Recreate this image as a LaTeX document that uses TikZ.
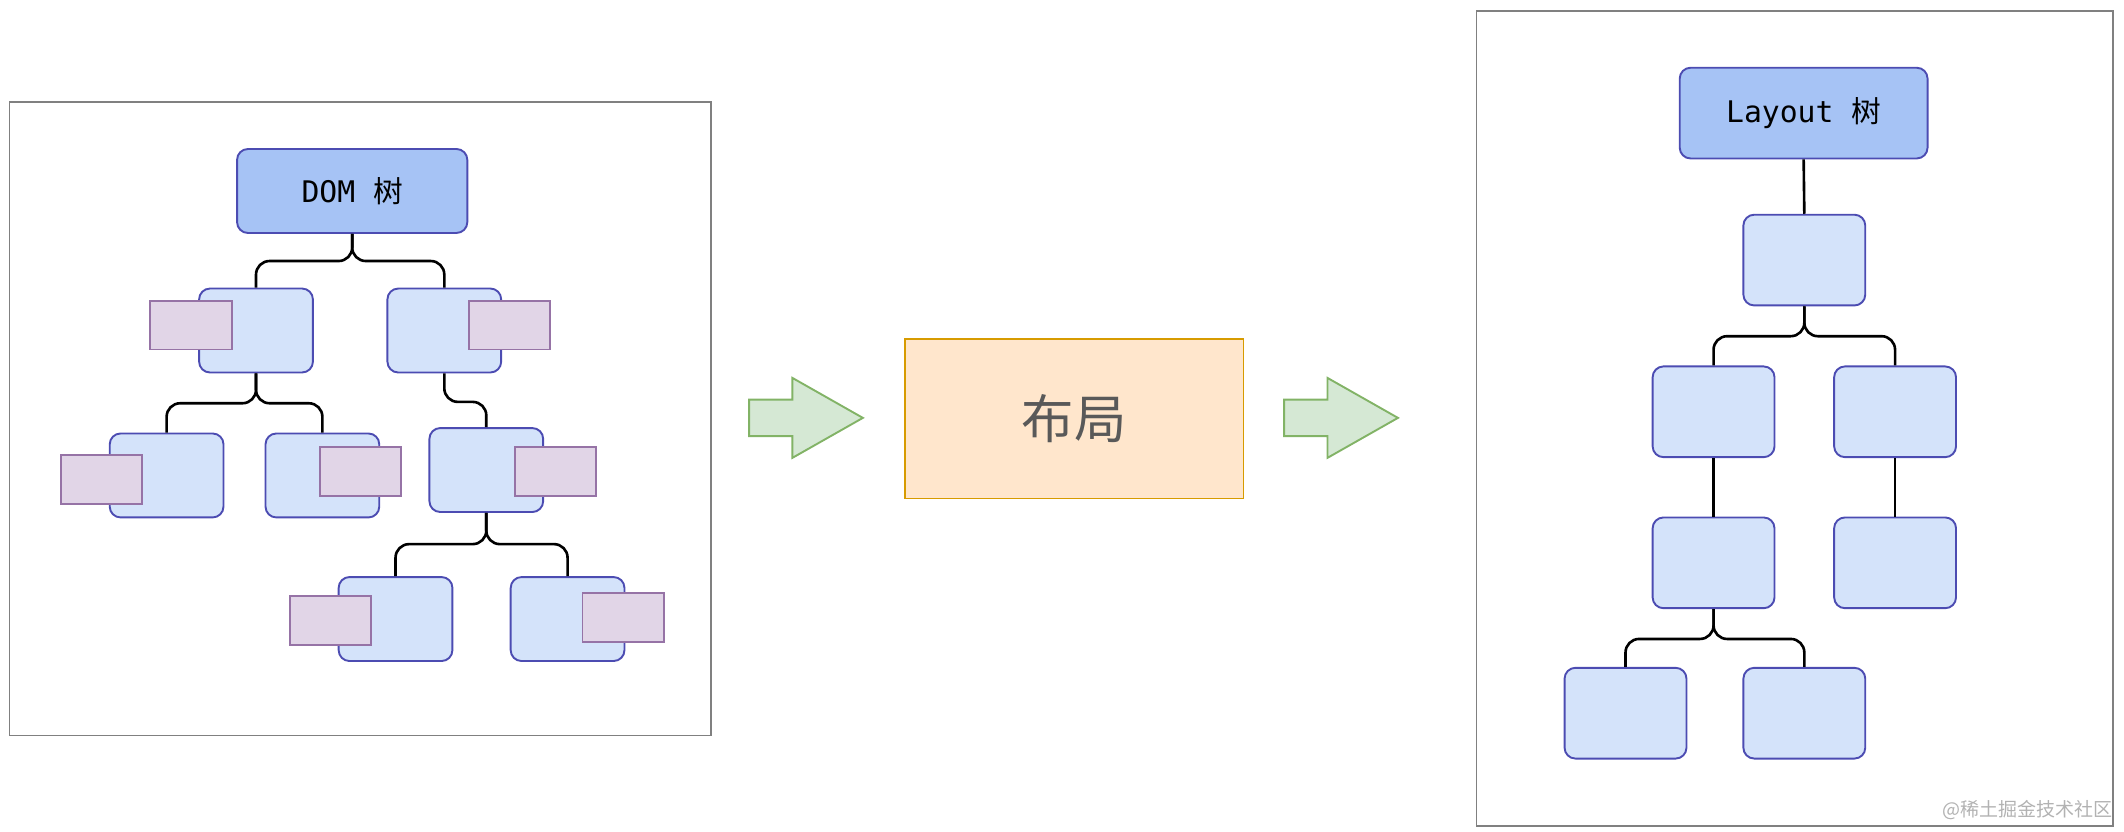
\documentclass[tikz,border=0pt]{standalone}
\usepackage{fontspec}
\setmonofont{DejaVu Sans Mono}
\newfontfamily\cjk{Noto Sans CJK SC}
\begin{document}
\begin{tikzpicture}[x=0.02cm,y=-0.02cm,
  frame/.style={draw=black!50,line width=0.8pt},
  lb/.style={draw=blue!40!gray,fill=blue!15!cyan!5!white,fill=lbfill,rounded corners=0.16cm,line width=0.8pt,minimum width=1.68cm,minimum height=1.24cm},
  rb/.style={lb,minimum width=1.8cm,minimum height=1.34cm},
  pb/.style={draw=pstroke,fill=pfill,line width=0.8pt,minimum width=1.2cm,minimum height=0.72cm},
  hb/.style={draw=blue!40!gray,fill=hfill,rounded corners=0.16cm,line width=0.8pt,font=\fontsize{12.5}{14}\selectfont\ttfamily},
  conn/.style={draw=black,line width=1.1pt,rounded corners=0.2cm},
  garrow/.style={draw=gstroke,fill=gfill,line width=0.8pt}]
\definecolor{lbfill}{HTML}{D4E3FA}
\definecolor{hfill}{HTML}{A6C3F5}
\definecolor{pfill}{HTML}{E1D5E7}
\definecolor{pstroke}{HTML}{9673A6}
\definecolor{gfill}{HTML}{D5E8D4}
\definecolor{gstroke}{HTML}{82B366}
\definecolor{ofill}{HTML}{FFE6CC}
\definecolor{ostroke}{HTML}{D79B00}
\useasboundingbox (0,0) rectangle (1568,614);
\draw[frame] (7,75) rectangle (525,543);
\draw[frame] (1090,8) rectangle (1560,610);
% DOM tree
\node[hb,minimum width=3.4cm,minimum height=1.24cm] (dom) at (260,141) {DOM {\cjk 树}};
\node[lb] (A) at (189,244) {};
\node[lb] (B) at (328,244) {};
\node[lb] (C) at (123,351) {};
\node[lb] (D) at (238,351) {};
\node[lb] (E) at (359,347) {};
\node[lb] (F) at (292,457) {};
\node[lb] (G) at (419,457) {};
\node[pb] (pA) at (141,240) {};
\node[pb] (pB) at (376,240) {};
\node[pb] (pC) at (75,354) {};
\node[pb] (pD) at (266,348) {};
\node[pb] (pE) at (410,348) {};
\node[pb] (pF) at (244,458) {};
\node[pb] (pG) at (460,456) {};
\draw[conn] (dom.south) -- ++(0,20) -| (A.north);
\draw[conn] (dom.south) -- ++(0,20) -| (B.north);
\draw[conn] (A.south) -- ++(0,22) -| (C.north);
\draw[conn] (A.south) -- ++(0,22) -| (D.north);
\draw[conn] (B.south) -- ++(0,21) -| (E.north);
\draw[conn] (E.south) -- ++(0,23) -| (F.north);
\draw[conn] (E.south) -- ++(0,23) -| (G.north);
% middle
\node[draw=ostroke,fill=ofill,line width=0.8pt,minimum width=5cm,minimum height=2.36cm,text=black!65,font=\cjk\fontsize{22}{24}\selectfont] (lay) at (793,309) {布局};
\draw[garrow] (553,295) -- (585,295) -- (585,279) -- (637,308.5) -- (585,338) -- (585,322) -- (553,322) -- cycle;
\draw[garrow] (948,295) -- (980,295) -- (980,279) -- (1032,308.5) -- (980,338) -- (980,322) -- (948,322) -- cycle;
% layout tree
\node[hb,minimum width=3.66cm,minimum height=1.34cm] (lt) at (1331.5,83.5) {Layout {\cjk 树}};
\node[rb] (R1) at (1332,192) {};
\node[rb] (R2) at (1265,304) {};
\node[rb] (R3) at (1399,304) {};
\node[rb] (R4) at (1265,415.5) {};
\node[rb] (R5) at (1399,415.5) {};
\node[rb] (R6) at (1200,526.5) {};
\node[rb] (R7) at (1332,526.5) {};
\draw[conn] (lt.south) -- (R1.north);
\draw[conn] (R1.south) -- ++(0,22) -| (R2.north);
\draw[conn] (R1.south) -- ++(0,22) -| (R3.north);
\draw[conn] (R2.south) -- (R4.north);
\draw[conn] (R3.south) -- (R5.north);
\draw[conn] (R4.south) -- ++(0,22) -| (R6.north);
\draw[conn] (R4.south) -- ++(0,22) -| (R7.north);
\node[text=black!30,font=\cjk\fontsize{8}{9}\selectfont,anchor=east] (wm) at (1566,598) {@稀土掘金技术社区};
\end{tikzpicture}
\end{document}
